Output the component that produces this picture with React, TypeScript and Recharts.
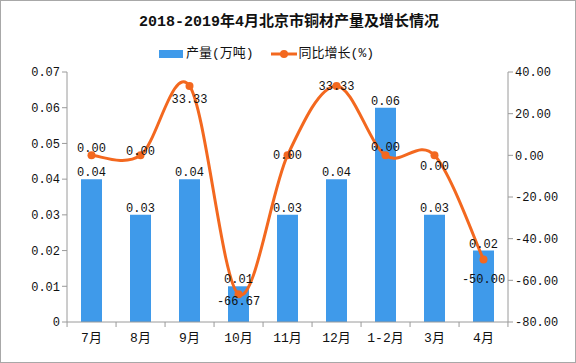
import {
  Bar,
  ComposedChart,
  LabelList,
  Line,
  XAxis,
  YAxis,
} from "recharts";

const months = ["7月", "8月", "9月", "10月", "11月", "12月", "1-2月", "3月", "4月"];
const output = [0.04, 0.03, 0.04, 0.01, 0.03, 0.04, 0.06, 0.03, 0.02];
const growth = [0.0, 0.0, 33.33, -66.67, 0.0, 33.33, 0.0, 0.0, -50.0];
const leftTicks = [0, 0.01, 0.02, 0.03, 0.04, 0.05, 0.06, 0.07];
const rightTicks = [-80, -60, -40, -20, 0, 20, 40];

// label nudges for the growth line, like the original's hand-placed labels
const growthLabelDy = [-7, -4, 14, 8, 0, 1, -8, 11, 20];

const W = 576;
const H = 363;
const PLOT_LEFT = 67;
const PLOT_RIGHT = 507;
const HALF_BAND = (PLOT_RIGHT - PLOT_LEFT) / months.length / 2;

const FONT = "'Liberation Mono', 'Noto Sans CJK SC', monospace";
const BLUE = "#3f9aea";
const ORANGE = "#f3681f";
const AXIS = "#9a9a9a";

const data = months.map((m, i) => ({ m, v: output[i], g: growth[i] }));

// Excel-style smoothed line: Catmull-Rom segments as cubic beziers
function smoothCurve(context: any) {
  let pts: number[][] = [];
  return {
    areaStart() {},
    areaEnd() {},
    lineStart() {
      pts = [];
    },
    point(x: number, y: number) {
      pts.push([+x, +y]);
    },
    lineEnd() {
      if (!pts.length) return;
      context.moveTo(pts[0][0], pts[0][1]);
      for (let i = 0; i < pts.length - 1; i++) {
        const p0 = pts[i - 1] || pts[i];
        const p1 = pts[i];
        const p2 = pts[i + 1];
        const p3 = pts[i + 2] || p2;
        context.bezierCurveTo(
          p1[0] + (p2[0] - p0[0]) / 6,
          p1[1] + (p2[1] - p0[1]) / 6,
          p2[0] - (p3[0] - p1[0]) / 6,
          p2[1] - (p3[1] - p1[1]) / 6,
          p2[0],
          p2[1]
        );
      }
    },
  };
}

function XTick(props: any) {
  const { x, y, payload, index } = props;
  const last = index === months.length - 1;
  return (
    <g>
      <line x1={x - HALF_BAND} y1={y - 8} x2={x - HALF_BAND} y2={y - 3} stroke={AXIS} />
      {last && (
        <line x1={x + HALF_BAND} y1={y - 8} x2={x + HALF_BAND} y2={y - 3} stroke={AXIS} />
      )}
      <text x={x} y={y + 12} textAnchor="middle" fontSize={13} fill="#111" fontFamily={FONT}>
        {payload.value}
      </text>
    </g>
  );
}

function GrowthLabel(props: any) {
  const { x, y, value, index } = props;
  return (
    <text
      x={x}
      y={y + growthLabelDy[index]}
      textAnchor="middle"
      dominantBaseline="middle"
      fontSize={12}
      fill="#111"
      fontFamily={FONT}
    >
      {Number(value).toFixed(2)}
    </text>
  );
}

export default function App() {
  return (
    <div
      style={{
        position: "absolute",
        left: 0,
        top: 0,
        width: W,
        height: H,
        boxSizing: "border-box",
        border: "1px solid #a8a8a8",
        background: "#fff",
        fontFamily: FONT,
      }}
    >
      <div
        style={{
          position: "absolute",
          top: 12,
          left: 0,
          width: W,
          textAlign: "center",
          fontSize: 15,
          fontWeight: "bold",
          color: "#111",
          lineHeight: "20px",
        }}
      >
        2018-2019年4月北京市铜材产量及增长情况
      </div>
      <div
        style={{
          position: "absolute",
          top: 44,
          left: 158,
          display: "flex",
          alignItems: "center",
          fontSize: 13,
          color: "#111",
          lineHeight: "18px",
        }}
      >
        <span style={{ width: 24, height: 8, background: BLUE, marginRight: 3 }} />
        <span>产量(万吨)</span>
        <svg width={26} height={10} style={{ marginLeft: 17, marginRight: 2 }}>
          <line x1={0} y1={5} x2={26} y2={5} stroke={ORANGE} strokeWidth={3} />
          <circle cx={13} cy={5} r={4} fill={ORANGE} />
        </svg>
        <span>同比增长(%)</span>
      </div>
      <ComposedChart
        width={W - 2}
        height={H - 2}
        data={data}
        margin={{ top: 71, right: 0, bottom: 10, left: 0 }}
        style={{ position: "absolute", left: 0, top: 0 }}
      >
        <XAxis
          dataKey="m"
          stroke={AXIS}
          tickLine={false}
          tick={<XTick />}
          interval={0}
          height={30}
        />
        <YAxis
          yAxisId="l"
          domain={[0, 0.07]}
          ticks={leftTicks}
          width={66}
          stroke={AXIS}
          tickSize={5}
          tick={{ fill: "#111", fontSize: 12, fontFamily: FONT }}
          tickFormatter={(v: number) => (v === 0 ? "0" : v.toFixed(2))}
        />
        <YAxis
          yAxisId="r"
          orientation="right"
          domain={[-80, 40]}
          ticks={rightTicks}
          width={67}
          stroke={AXIS}
          tickSize={5}
          tick={{ fill: "#111", fontSize: 12, fontFamily: FONT }}
          tickFormatter={(v: number) => v.toFixed(2)}
        />
        <Bar yAxisId="l" dataKey="v" fill={BLUE} barSize={21} isAnimationActive={false}>
          <LabelList
            dataKey="v"
            position="top"
            offset={3}
            fill="#111"
            fontSize={12}
            fontFamily={FONT}
            formatter={(v: any) => Number(v).toFixed(2)}
          />
        </Bar>
        <Line
          yAxisId="r"
          dataKey="g"
          type={smoothCurve as any}
          stroke={ORANGE}
          strokeWidth={3}
          dot={{ r: 4, fill: ORANGE, stroke: ORANGE, strokeWidth: 0 }}
          isAnimationActive={false}
        >
          <LabelList dataKey="g" content={<GrowthLabel />} />
        </Line>
      </ComposedChart>
    </div>
  );
}
